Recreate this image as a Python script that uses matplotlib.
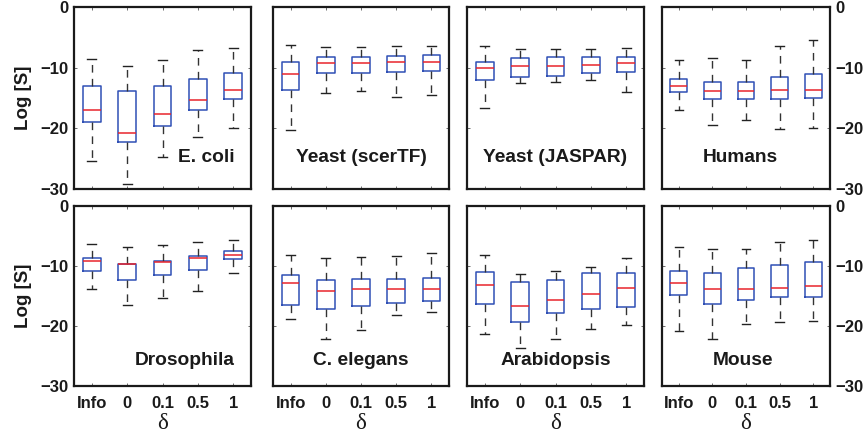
import matplotlib
matplotlib.use("Agg")
import matplotlib.pyplot as plt

plt.rcParams["font.family"] = ["Liberation Sans", "DejaVu Sans"]
plt.rcParams["font.weight"] = "bold"

# x categories (delta settings)
categories = ["Info", "0", "0.1", "0.5", "1"]
y_ticks = [-30, -20, -10, 0]
y_tick_labels = ["\u221230", "\u221220", "\u221210", "0"]

organisms = ["E. coli", "Yeast (scerTF)", "Yeast (JASPAR)", "Humans",
             "Drosophila", "C. elegans", "Arabidopsis", "Mouse"]

# Box statistics per organism: upper whisker, upper quartile, median, lower quartile, lower whisker
ecoli_hi = [-8.5, -9.8, -8.8, -7.1, -6.7]
ecoli_q3 = [-13.0, -13.9, -13.0, -11.9, -10.9]
ecoli_med = [-16.9, -20.8, -17.7, -15.4, -13.6]
ecoli_q1 = [-19.0, -22.2, -19.6, -17.0, -15.1]
ecoli_lo = [-25.4, -29.1, -24.8, -21.5, -19.9]

scer_hi = [-6.3, -6.6, -6.6, -6.5, -6.4]
scer_q3 = [-9.1, -8.2, -8.2, -8.0, -7.9]
scer_med = [-11.0, -9.3, -9.3, -9.1, -9.0]
scer_q1 = [-13.7, -10.9, -10.9, -10.7, -10.5]
scer_lo = [-20.2, -14.2, -13.8, -14.8, -14.5]

jaspar_hi = [-6.5, -7.0, -6.9, -6.9, -6.7]
jaspar_q3 = [-9.0, -8.4, -8.3, -8.3, -8.2]
jaspar_med = [-10.1, -9.8, -9.7, -9.5, -9.3]
jaspar_q1 = [-12.0, -11.5, -11.4, -10.9, -10.7]
jaspar_lo = [-16.7, -12.5, -12.4, -12.1, -14.0]

human_hi = [-8.8, -8.4, -8.8, -6.4, -5.4]
human_q3 = [-11.8, -12.4, -12.4, -11.5, -11.1]
human_med = [-13.0, -13.8, -13.8, -13.7, -13.7]
human_q1 = [-14.0, -15.2, -15.2, -15.2, -15.0]
human_lo = [-17.0, -19.4, -18.7, -20.1, -20.0]

dros_hi = [-6.4, -6.8, -6.5, -6.0, -5.6]
dros_q3 = [-8.7, -9.6, -9.1, -8.3, -7.5]
dros_med = [-9.1, -9.6, -9.3, -8.6, -8.2]
dros_q1 = [-10.9, -12.3, -11.5, -10.7, -8.9]
dros_lo = [-13.9, -16.5, -15.4, -14.1, -11.1]

cel_hi = [-8.2, -8.6, -8.5, -8.3, -7.9]
cel_q3 = [-11.5, -12.4, -12.2, -12.1, -12.0]
cel_med = [-12.9, -14.1, -13.9, -13.9, -13.9]
cel_q1 = [-16.5, -17.1, -16.6, -16.2, -15.9]
cel_lo = [-18.8, -22.2, -20.7, -18.1, -17.6]

arab_hi = [-8.2, -11.3, -10.9, -10.2, -8.7]
arab_q3 = [-11.0, -12.7, -12.3, -11.2, -11.1]
arab_med = [-13.2, -16.7, -15.7, -14.7, -13.6]
arab_q1 = [-16.3, -19.4, -17.8, -17.1, -16.9]
arab_lo = [-21.3, -23.6, -22.1, -20.5, -19.8]

mouse_hi = [-6.9, -7.1, -7.1, -6.0, -5.7]
mouse_q3 = [-10.8, -11.2, -10.4, -9.8, -9.4]
mouse_med = [-12.9, -13.9, -13.8, -13.6, -13.3]
mouse_q1 = [-14.8, -16.3, -15.7, -15.2, -15.2]
mouse_lo = [-20.8, -22.2, -19.6, -19.3, -19.1]

panel_stats = [
    (ecoli_hi, ecoli_q3, ecoli_med, ecoli_q1, ecoli_lo),
    (scer_hi, scer_q3, scer_med, scer_q1, scer_lo),
    (jaspar_hi, jaspar_q3, jaspar_med, jaspar_q1, jaspar_lo),
    (human_hi, human_q3, human_med, human_q1, human_lo),
    (dros_hi, dros_q3, dros_med, dros_q1, dros_lo),
    (cel_hi, cel_q3, cel_med, cel_q1, cel_lo),
    (arab_hi, arab_q3, arab_med, arab_q1, arab_lo),
    (mouse_hi, mouse_q3, mouse_med, mouse_q1, mouse_lo),
]

W, H = 868, 442
fig = plt.figure(figsize=(W / 100, H / 100), dpi=100)

# panel frames in pixels: (left, right) per column, (top, bottom) per row
cols = [(74, 251), (273, 449), (467, 644), (662, 830)]
rows = [(7, 189), (206, 386)]

# name placement: (x in axes fraction, horizontal alignment)
name_pos = [(0.91, "right"), (0.5, "center"), (0.5, "center"), (0.465, "center"),
            (0.91, "right"), (0.5, "center"), (0.5, "center"), (0.482, "center")]

BLUE = "#2f4fb5"
RED = "#e8242c"

for i, (name, st) in enumerate(zip(organisms, panel_stats)):
    r, c = divmod(i, 4)
    x0, x1 = cols[c]
    y0, y1 = rows[r]
    ax = fig.add_axes([x0 / W, 1 - y1 / H, (x1 - x0) / W, (y1 - y0) / H])
    hi, q3, med, q1, lo = st
    stats = [dict(med=med[k], q1=q1[k], q3=q3[k], whislo=lo[k], whishi=hi[k],
                  fliers=[], label=categories[k]) for k in range(len(categories))]
    ax.bxp(stats, positions=range(1, 6), widths=0.5, showfliers=False,
           boxprops=dict(color=BLUE, linewidth=1.1),
           medianprops=dict(color=RED, linewidth=1.1),
           whiskerprops=dict(color="#333333", linewidth=1.0, linestyle=(0, (5.5, 4.5))),
           capprops=dict(color="#222222", linewidth=1.0))
    ax.set_xlim(0.5, 5.5)
    ax.set_ylim(-30, 0)
    ax.set_yticks(y_ticks)
    ax.set_xticks(range(1, 6))
    for sp in ax.spines.values():
        sp.set_linewidth(1.6)
        sp.set_color("#1a1a1a")
    ax.tick_params(direction="in", length=2.5, width=0.6, colors="#555555",
                   top=True, right=True, labelsize=12, pad=4,
                   labelcolor="#1a1a1a")
    # y labels on outer columns only
    if c == 0:
        ax.set_yticklabels(y_tick_labels)
        ax.set_ylabel("Log [S]", fontsize=13.5, fontweight="bold",
                      color="#1a1a1a")
        ax.yaxis.set_label_coords(-0.238, 0.5)
    elif c == 3:
        ax.yaxis.tick_right()
        ax.tick_params(axis="y", left=True, right=True, direction="in")
        ax.set_yticklabels(y_tick_labels)
    else:
        ax.set_yticklabels([])
    if r == 1:
        ax.set_xticklabels(categories)
        ax.tick_params(axis="x", pad=7)
        ax.text(0.5, -0.21, "\u03b4", transform=ax.transAxes, ha="center",
                va="center", fontsize=16.5, fontweight="normal",
                family=["Liberation Serif", "DejaVu Serif"], color="#1a1a1a")
    else:
        ax.set_xticklabels([])
    nx, ha = name_pos[i]
    ny = 0.148 if r == 0 else 0.117
    ax.text(nx, ny, name, transform=ax.transAxes, ha=ha, va="baseline",
            fontsize=13.8, fontweight="bold", color="#1a1a1a")

fig.savefig("out.png", dpi=100)
